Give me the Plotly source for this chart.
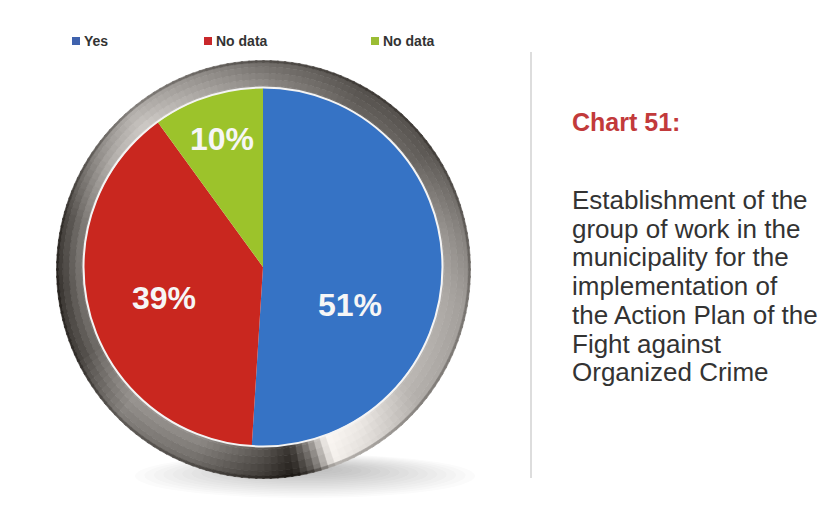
import numpy as np
import plotly.graph_objects as go

W, H = 835, 523

# ---- data ----
categories = ["Yes", "No data", "No data"]
shares = [51, 39, 10]
slice_colors = ["#3673c5", "#c9271f", "#9cc32b"]
legend_colors = ["#3f62ad", "#c9282b", "#9bbd34"]

title_text = "Chart 51:"
caption_lines = [
    "Establishment of the",
    "group of work in the",
    "municipality for the",
    "implementation of",
    "the Action Plan of the",
    "Fight against",
    "Organized Crime",
]

# ---- layout helpers (pixel -> paper) ----
def fx(x):
    return x / W


def fy(y):
    return 1 - y / H


# pie geometry in pixels
CX, CY, R = 263, 267, 179
# bezel outer ellipse
OCX, OCY, ORX, ORY = 263.5, 269.5, 207, 209

fig = go.Figure()

fig.add_trace(go.Pie(
    labels=[f"{c} #{i + 1}" for i, c in enumerate(categories)],
    values=shares,
    hovertext=categories,
    hoverinfo="text+percent",
    sort=False,
    direction="clockwise",
    rotation=0,
    marker=dict(colors=slice_colors, line=dict(width=0)),
    textinfo="none",
    showlegend=False,
    domain=dict(x=[fx(CX - R), fx(CX + R)], y=[fy(CY + R), fy(CY - R)]),
))

shapes = []

# soft shadow under the bezel
NS = 16
for k in range(NS):
    s = 1 - k / (NS + 2)
    shapes.append(dict(
        type="circle", xref="paper", yref="paper", layer="below",
        x0=fx(305 - 170 * s), x1=fx(305 + 170 * s),
        y0=fy(468 + 30 * s), y1=fy(468 - 14 * s),
        fillcolor="rgba(70,70,70,0.018)", line=dict(width=0),
    ))

# metallic bezel: gray level by angle (clockwise from top) for inner and outer part
ang_k = [0, 30, 55, 80, 100, 130, 148, 160, 166, 172, 180, 200, 225, 245, 265, 285, 305, 320, 340, 360]
g_in = [150, 105, 110, 160, 175, 190, 238, 250, 150, 60, 95, 150, 160, 125, 140, 150, 195, 215, 180, 150]
g_out = [105, 78, 82, 125, 155, 170, 215, 240, 90, 28, 55, 100, 120, 60, 45, 60, 125, 170, 140, 105]

NA = 180
bands = [0.0, 0.2, 0.4, 0.6, 0.8, 0.93, 1.0]
r_in = R - 4


def pt(th, t):
    xi, yi = CX + r_in * np.sin(th), CY - r_in * np.cos(th)
    xo, yo = OCX + ORX * np.sin(th), OCY - ORY * np.cos(th)
    return xi + (xo - xi) * t, yi + (yo - yi) * t


for i in range(NA):
    a0 = 360 * i / NA
    a1 = 360 * (i + 1) / NA
    am = (a0 + a1) / 2
    gi = np.interp(am, ang_k, g_in)
    go_ = np.interp(am, ang_k, g_out)
    t0r, t1r = np.radians(a0 - 0.25), np.radians(a1 + 0.25)
    for j in range(len(bands) - 1):
        ta, tb = bands[j], bands[j + 1]
        tm = (ta + tb) / 2
        g = gi + (go_ - gi) * tm
        if j == len(bands) - 2:
            g *= 0.75
        r = int(np.clip(g + 4, 0, 255))
        gg = int(np.clip(g, 0, 255))
        b = int(np.clip(g - 4, 0, 255))
        col = f"rgb({r},{gg},{b})"
        p = [pt(t0r, ta), pt(t1r, ta), pt(t1r, tb), pt(t0r, tb)]
        path = "M " + " L ".join(f"{fx(x):.5f},{fy(y):.5f}" for x, y in p) + " Z"
        shapes.append(dict(type="path", path=path, xref="paper", yref="paper",
                           layer="below", fillcolor=col,
                           line=dict(color=col, width=0.5)))

# thin white rim around the pie
shapes.append(dict(type="circle", xref="paper", yref="paper", layer="above",
                   x0=fx(CX - R - 0.5), x1=fx(CX + R + 0.5),
                   y0=fy(CY + R + 0.5), y1=fy(CY - R - 0.5),
                   fillcolor="rgba(0,0,0,0)", line=dict(color="#f4f4f4", width=2)))

# divider line
shapes.append(dict(type="line", xref="paper", yref="paper",
                   x0=fx(531), x1=fx(531), y0=fy(52), y1=fy(478),
                   line=dict(color="#dddddd", width=2)))

annotations = []

# legend
legend_x = [72, 204, 371]
for x, lab, col in zip(legend_x, categories, legend_colors):
    shapes.append(dict(type="rect", xref="paper", yref="paper",
                       x0=fx(x), x1=fx(x + 8), y0=fy(45), y1=fy(37),
                       fillcolor=col, line=dict(width=0)))
    annotations.append(dict(x=fx(x + 10), y=fy(41), xref="paper", yref="paper",
                            text=f"<b>{lab}</b>", showarrow=False, xanchor="left", yanchor="middle",
                            font=dict(family="Liberation Sans", size=14, color="#333333")))

# slice labels
label_pos = [(350, 305), (164, 298), (222, 139)]
for (x, y), v in zip(label_pos, shares):
    annotations.append(dict(x=fx(x), y=fy(y), xref="paper", yref="paper",
                            text=f"<b>{v}%</b>", showarrow=False,
                            xanchor="center", yanchor="middle",
                            font=dict(family="Liberation Sans", size=32, color="#f6f6f6")))

# title and caption
annotations.append(dict(x=fx(570), y=fy(122), xref="paper", yref="paper",
                        text=f"<b>{title_text}</b>", showarrow=False,
                        xanchor="left", yanchor="middle",
                        font=dict(family="Liberation Sans", size=25, color="#c23a3b")))
for k, line in enumerate(caption_lines):
    annotations.append(dict(x=fx(570), y=fy(200 + 28.7 * k), xref="paper", yref="paper",
                            text=line, showarrow=False,
                            xanchor="left", yanchor="middle",
                            font=dict(family="Liberation Sans", size=26, color="#333333")))

fig.update_layout(
    width=W, height=H,
    margin=dict(l=0, r=0, t=0, b=0),
    paper_bgcolor="white", plot_bgcolor="white",
    shapes=shapes, annotations=annotations,
    showlegend=False,
)

fig.write_html("out.html")
